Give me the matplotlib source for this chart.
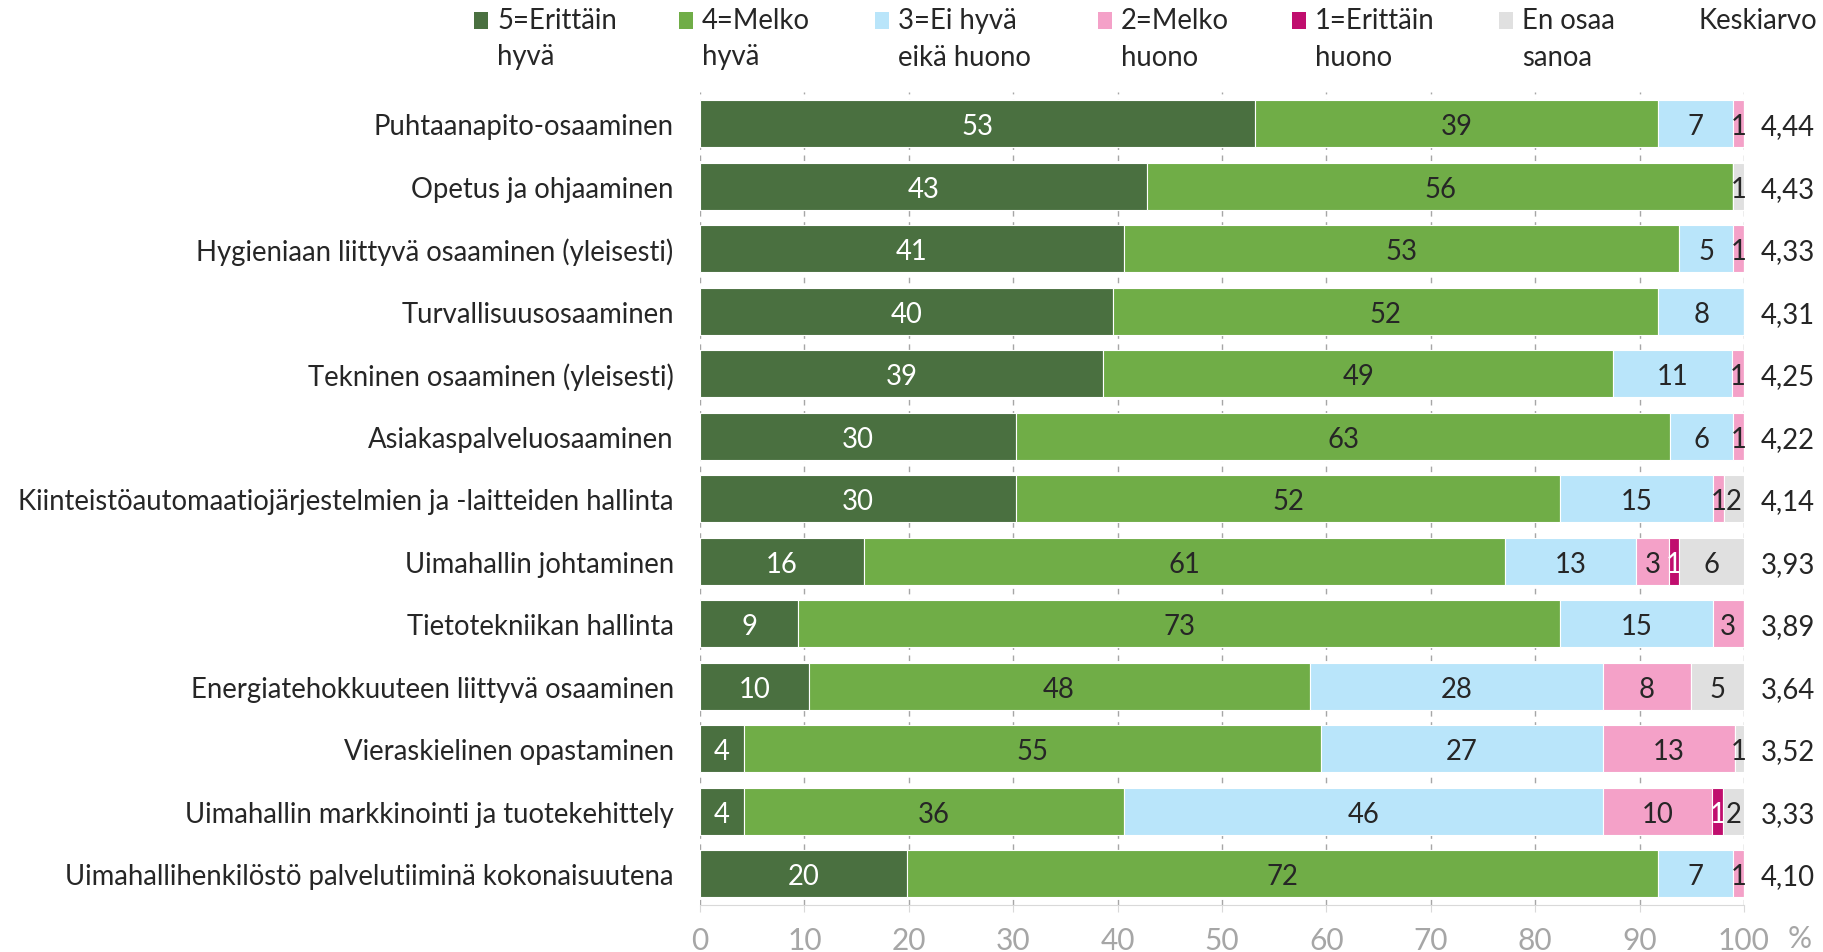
import matplotlib
matplotlib.use("Agg")
import matplotlib.pyplot as plt
import numpy as np
from matplotlib.patches import Rectangle

plt.rcParams['font.family'] = ['Lato', 'DejaVu Sans']

categories = [
    'Puhtaanapito-osaaminen',
    'Opetus ja ohjaaminen',
    'Hygieniaan liittyvä osaaminen (yleisesti)',
    'Turvallisuusosaaminen',
    'Tekninen osaaminen (yleisesti)',
    'Asiakaspalveluosaaminen',
    'Kiinteistöautomaatiojärjestelmien ja -laitteiden hallinta',
    'Uimahallin johtaminen',
    'Tietotekniikan hallinta',
    'Energiatehokkuuteen liittyvä osaaminen',
    'Vieraskielinen opastaminen',
    'Uimahallin markkinointi ja tuotekehittely',
    'Uimahallihenkilöstö palvelutiiminä kokonaisuutena',
]

series_names = ['5=Erittäin\nhyvä', '4=Melko\nhyvä', '3=Ei hyvä\neikä huono',
                '2=Melko\nhuono', '1=Erittäin\nhuono', 'En osaa\nsanoa']

# percentage shares per category
erittain_hyva = [53.2, 42.8, 40.6, 39.6, 38.6, 30.3, 30.3, 15.7, 9.4, 10.4, 4.2, 4.2, 19.8]
melko_hyva = [38.6, 56.2, 53.2, 52.2, 48.9, 62.6, 52.1, 61.4, 73.0, 48.0, 55.3, 36.4, 72.0]
ei_hyva_eika_huono = [7.2, 0, 5.2, 8.2, 11.4, 6.1, 14.6, 12.6, 14.6, 28.1, 27.0, 45.9, 7.2]
melko_huono = [1.0, 0, 1.0, 0, 1.1, 1.0, 1.1, 3.1, 3.0, 8.4, 12.6, 10.4, 1.0]
erittain_huono = [0, 0, 0, 0, 0, 0, 0, 1.0, 0, 0, 0, 1.1, 0]
en_osaa_sanoa = [0, 1.0, 0, 0, 0, 0, 1.9, 6.2, 0, 5.1, 0.9, 2.0, 0]

keskiarvo = ['4,44', '4,43', '4,33', '4,31', '4,25', '4,22', '4,14',
             '3,93', '3,89', '3,64', '3,52', '3,33', '4,10']

colors = ['#4A7040', '#70AD47', '#B9E5FA', '#F4A1C8', '#C00E6E', '#E0E0E0']
text_colors = ['white', '#262626', '#262626', '#262626', 'white', '#262626']

series = [erittain_hyva, melko_hyva, ei_hyva_eika_huono, melko_huono,
          erittain_huono, en_osaa_sanoa]

FS = 19.8

fig = plt.figure(figsize=(18.24, 9.53), dpi=100)
ax = fig.add_axes([0.3838, 0.0494, 0.5723, 0.8526])

y = np.arange(len(categories))
left = np.zeros(len(categories))
for vals, col, tcol in zip(series, colors, text_colors):
    vals = np.array(vals, dtype=float)
    ax.barh(y, vals, left=left, height=0.75, color=col, edgecolor='white',
            linewidth=0.8, zorder=2)
    for yi, (l, v) in enumerate(zip(left, vals)):
        if v > 0:
            ax.text(l + v / 2, yi, f'{v:.0f}', ha='center', va='center_baseline',
                    fontsize=FS, color=tcol, zorder=3)
    left += vals

for yi, k in enumerate(keskiarvo):
    ax.text(101.6, yi, k, ha='left', va='center_baseline', fontsize=FS,
            color='#262626', clip_on=False)

ax.set_xlim(0, 100)
ax.set_ylim(len(categories) - 0.5, -0.5)
ax.set_yticks(y)
ax.set_yticklabels(categories, fontsize=FS, color='#262626')
ax.tick_params(axis='y', length=0, pad=19)
ax.set_xticks(np.arange(0, 101, 10))
ax.tick_params(axis='x', labelsize=21.5, labelcolor='#A6A6A6', color='#D9D9D9',
               length=5, pad=10)
ax.xaxis.grid(True, linestyle=(0, (4, 4)), color='#A6A6A6', linewidth=1, zorder=0)
ax.set_axisbelow(True)
for s in ['top', 'right', 'left']:
    ax.spines[s].set_visible(False)
ax.spines['bottom'].set_color('#D9D9D9')
ax.annotate('%', xy=(104.2, 0), xycoords=('data', 'axes fraction'),
            xytext=(0, -14), textcoords='offset points', fontsize=21.5,
            color='#A6A6A6', ha='left', va='top', annotation_clip=False)

# legend across the top
legend_x = [474, 679, 875, 1098, 1292, 1499]
W, H = 1824, 953
for lx, name, col in zip(legend_x, series_names, colors):
    fig.patches.append(Rectangle((lx / W, 1 - 30 / H), 14 / W, 17 / H,
                                 transform=fig.transFigure, facecolor=col,
                                 edgecolor='none'))
    fig.text((lx + 23) / W, 1 - 8 / H, name, ha='left', va='top', fontsize=FS,
             color='#262626', linespacing=1.5)
fig.text(1817 / W, 1 - 8 / H, 'Keskiarvo', ha='right', va='top', fontsize=FS,
         color='#262626')

fig.savefig('out.png', dpi=100, facecolor='white')
